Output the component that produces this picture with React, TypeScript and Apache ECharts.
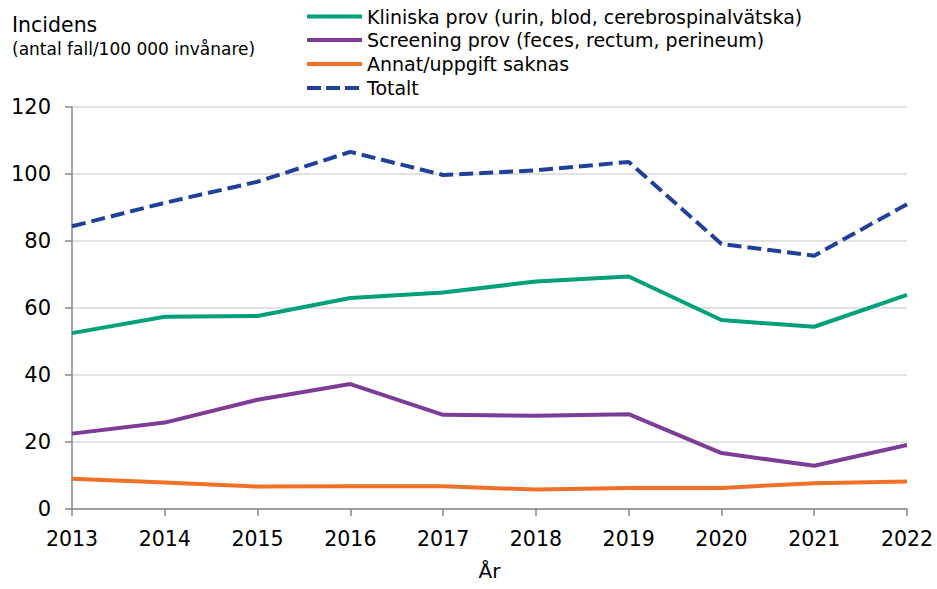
import React, { useEffect, useRef } from "react";
import * as echarts from "echarts";

const years = ["2013", "2014", "2015", "2016", "2017", "2018", "2019", "2020", "2021", "2022"];
const kliniska = [52.5, 57.4, 57.6, 63.0, 64.6, 67.9, 69.4, 56.4, 54.4, 63.9];
const screening = [22.5, 25.8, 32.6, 37.3, 28.1, 27.8, 28.3, 16.7, 12.9, 19.1];
const annat = [9.0, 7.9, 6.7, 6.8, 6.8, 5.8, 6.3, 6.3, 7.7, 8.2];
const totalt = [84.4, 91.4, 97.7, 106.6, 99.7, 101.1, 103.6, 79.1, 75.6, 91.0];

const seriesNames = [
  "Kliniska prov (urin, blod, cerebrospinalvätska)",
  "Screening prov (feces, rectum, perineum)",
  "Annat/uppgift saknas",
  "Totalt",
];
const seriesColors = ["#00a07a", "#7d3c98", "#f07028", "#21409a"];
const seriesDashed = [false, false, false, true];

const FONT = "'DejaVu Sans', Verdana, sans-serif";
const DASH = [14, 6];

export default function App() {
  const ref = useRef<HTMLDivElement>(null);
  useEffect(() => {
    if (!ref.current) return;
    const chart = echarts.init(ref.current, undefined, { renderer: "svg" });
    const mk = (i: number, data: number[]) => ({
      name: seriesNames[i],
      type: "line",
      data,
      symbol: "none",
      showSymbol: false,
      lineStyle: {
        color: seriesColors[i],
        width: 4,
        type: seriesDashed[i] ? DASH : "solid",
        cap: "butt",
      },
      itemStyle: { color: seriesColors[i] },
    });
    const legendRowY = [16.5, 40, 64, 88];
    const legendGraphics: any[] = [];
    seriesNames.forEach((name, i) => {
      const y = legendRowY[i];
      legendGraphics.push({
        type: "line",
        shape: { x1: 307, y1: y, x2: 362, y2: y },
        style: {
          stroke: seriesColors[i],
          lineWidth: 4,
          lineDash: seriesDashed[i] ? [14, 5] : null,
          lineCap: "butt",
        },
      });
      legendGraphics.push({
        type: "text",
        x: 367,
        y: y,
        style: {
          text: name,
          fontFamily: FONT,
          fontSize: 19,
          fill: "#000",
          verticalAlign: "middle",
          align: "left",
        },
      });
    });
    chart.setOption({
      animation: false,
      backgroundColor: "#ffffff",
      textStyle: { fontFamily: FONT },
      grid: { left: 72, right: 30, top: 107, bottom: 80, containLabel: false },
      graphic: [
        {
          type: "text",
          x: 12,
          y: 25,
          style: { text: "Incidens", fontFamily: FONT, fontSize: 20.5, fill: "#000", verticalAlign: "middle" },
        },
        {
          type: "text",
          x: 12,
          y: 48.5,
          style: {
            text: "(antal fall/100 000 invånare)",
            fontFamily: FONT,
            fontSize: 17,
            fill: "#000",
            verticalAlign: "middle",
          },
        },
        ...legendGraphics,
      ],
      xAxis: {
        type: "category",
        data: years,
        boundaryGap: false,
        name: "År",
        nameLocation: "middle",
        nameGap: 52,
        nameTextStyle: { fontFamily: FONT, fontSize: 20, color: "#000" },
        axisLine: { lineStyle: { color: "#868686", width: 1.5 } },
        axisTick: { show: true, length: 7, lineStyle: { color: "#868686", width: 1.5 } },
        axisLabel: { fontFamily: FONT, fontSize: 20.5, color: "#000", margin: 19 },
        splitLine: { show: false },
      },
      yAxis: {
        type: "value",
        min: 0,
        max: 120,
        interval: 20,
        axisLine: { show: true, lineStyle: { color: "#868686", width: 1.5 } },
        axisTick: { show: true, length: 7, lineStyle: { color: "#868686", width: 1.5 } },
        axisLabel: { fontFamily: FONT, fontSize: 21, color: "#000", margin: 21 },
        splitLine: { show: true, lineStyle: { color: "#d9d9d9", width: 1.5 } },
      },
      series: [mk(0, kliniska), mk(1, screening), mk(2, annat), mk(3, totalt)],
    });
    return () => chart.dispose();
  }, []);
  return (
    <div
      ref={ref}
      style={{ width: 937, height: 589, position: "absolute", left: 0, top: 0 }}
    />
  );
}
